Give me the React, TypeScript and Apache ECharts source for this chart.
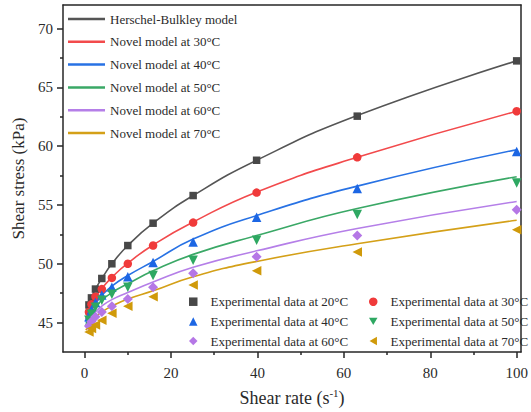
import React, { useEffect, useRef } from "react";
import * as echarts from "echarts";

// Shear rates (s^-1) of the measured points
const shearRates = [1, 1.585, 2.512, 3.981, 6.31, 10, 15.85, 25.12, 39.81, 63.1, 100];

// Measured shear stress (kPa) per temperature
const exp20 = [46.5, 47.1, 47.85, 48.75, 50.0, 51.55, 53.45, 55.8, 58.8, 62.55, 67.25];
const exp30 = [45.9, 46.55, 47.2, 47.85, 48.8, 50.0, 51.55, 53.5, 56.05, 59.05, 62.97];
const exp40 = [45.5, 46.1, 46.7, 47.35, 48.0, 48.9, 50.1, 51.85, 53.95, 56.4, 59.55];
const exp50 = [45.2, 45.7, 46.3, 46.9, 47.4, 48.0, 49.0, 50.3, 52.0, 54.2, 56.86];
const exp60 = [44.7, 45.1, 45.5, 45.9, 46.4, 47.0, 48.0, 49.2, 50.6, 52.4, 54.6];
const exp70 = [44.2, 44.5, 44.8, 45.2, 45.8, 46.4, 47.2, 48.2, 49.4, 51.0, 52.9];

// Model curves sampled at these shear rates
const curveRates = [0.3, 1, 1.585, 2.512, 3.981, 6.31, 10, 15.85, 25.12, 39.81, 63.1, 100];
const hbModel = [46.0, 46.5, 47.1, 47.85, 48.75, 50.0, 51.55, 53.45, 55.8, 58.8, 62.6, 67.25];
const novel30 = [45.3, 45.95, 46.5, 47.15, 47.9, 48.85, 50.05, 51.6, 53.55, 56.1, 59.05, 62.97];
const novel40 = [45.0, 45.6, 46.1, 46.6, 47.3, 48.1, 49.0, 50.2, 52.1, 54.1, 56.6, 59.7];
const novel50 = [44.8, 45.4, 45.85, 46.3, 46.9, 47.55, 48.3, 49.4, 50.8, 52.4, 54.7, 57.4];
const novel60 = [44.6, 45.1, 45.5, 45.9, 46.4, 46.95, 47.55, 48.45, 49.7, 51.1, 53.0, 55.3];
const novel70 = [44.35, 44.8, 45.15, 45.5, 45.9, 46.4, 47.0, 47.7, 48.9, 50.2, 51.7, 53.7];

// Axis ticks
const xMajor = [0, 20, 40, 60, 80, 100];
const xMinor = [10, 30, 50, 70, 90];
const yMajor = [45, 50, 55, 60, 65, 70];
const yMinor = [47.5, 52.5, 57.5, 62.5, 67.5];

const FONT = "'Liberation Serif', 'Times New Roman', serif";
const AXIS_COLOR = "#262626";
const TEXT_COLOR = "#2a2a2a";

// Marker outlines used in the legend
const ICON_DOWN = "path://M0,0L10,0L5,8.66Z";
const ICON_LEFT = "path://M8.66,0L8.66,10L0,5Z";

const curves = [
  { name: "Herschel-Bulkley model", data: hbModel, color: "#555555" },
  { name: "Novel model at 30°C", data: novel30, color: "#f24a4c" },
  { name: "Novel model at 40°C", data: novel40, color: "#2872e4" },
  { name: "Novel model at 50°C", data: novel50, color: "#3aa866" },
  { name: "Novel model at 60°C", data: novel60, color: "#b57fe8" },
  { name: "Novel model at 70°C", data: novel70, color: "#d4a018" },
];

const experiments = [
  { name: "Experimental data at 20°C", data: exp20, color: "#484848", symbol: "rect", size: 7.5, rotate: 0, icon: "rect" },
  { name: "Experimental data at 30°C", data: exp30, color: "#f03a3a", symbol: "circle", size: 8.5, rotate: 0, icon: "circle" },
  { name: "Experimental data at 40°C", data: exp40, color: "#1c66e4", symbol: "triangle", size: 9.5, rotate: 0, icon: "triangle" },
  { name: "Experimental data at 50°C", data: exp50, color: "#2ea862", symbol: "triangle", size: 9.5, rotate: 180, icon: ICON_DOWN },
  { name: "Experimental data at 60°C", data: exp60, color: "#b577e6", symbol: "diamond", size: 10, rotate: 0, icon: "diamond" },
  { name: "Experimental data at 70°C", data: exp70, color: "#d09a0a", symbol: "triangle", size: 9.5, rotate: 90, icon: ICON_LEFT },
];

const XMIN = -5;
const XMAX = 101;
const YMIN = 42.5;
const YMAX = 72;

export default function App() {
  const ref = useRef<HTMLDivElement>(null);

  useEffect(() => {
    if (!ref.current) return;
    const chart = echarts.init(ref.current, null, { renderer: "svg" });

    const tickLabel = { fontFamily: FONT, fontSize: 15, color: TEXT_COLOR };
    const axisLine = { show: true, onZero: false, lineStyle: { color: AXIS_COLOR, width: 1.5 } };

    const lineSeries = curves.map((c) => ({
      name: c.name,
      type: "line",
      xAxisIndex: 0,
      yAxisIndex: 0,
      data: curveRates.map((x, i) => [x, c.data[i]]),
      smooth: 0.5,
      showSymbol: false,
      symbol: "none",
      lineStyle: { color: c.color, width: 1.6 },
      itemStyle: { color: c.color },
      z: 2,
    }));

    const scatterSeries = experiments.map((e) => ({
      name: e.name,
      type: "scatter",
      xAxisIndex: 0,
      yAxisIndex: 0,
      data: shearRates.map((x, i) => [x, e.data[i]]),
      symbol: e.symbol,
      symbolSize: e.size,
      symbolRotate: e.rotate,
      itemStyle: { color: e.color, opacity: 1 },
      z: 3,
    }));

    const scatterLegend = (idx: number[], left: number) => ({
      orient: "vertical",
      left,
      top: 294.7,
      padding: 0,
      itemWidth: 8.5,
      itemHeight: 8.5,
      itemGap: 5.7,
      data: idx.map((i) => ({ name: experiments[i].name, icon: experiments[i].icon })),
      textStyle: {
        fontFamily: FONT,
        fontSize: 13,
        color: TEXT_COLOR,
        lineHeight: 14,
        padding: [0, 0, 0, 8],
      },
      selectedMode: false,
    });

    chart.setOption({
      animation: false,
      backgroundColor: "#ffffff",
      grid: { left: 63, right: 10, top: 5, bottom: 58, containLabel: false },
      legend: [
        {
          orient: "vertical",
          left: 68,
          top: 12,
          padding: 0,
          icon: "rect",
          itemWidth: 37,
          itemHeight: 2.5,
          itemGap: 8.8,
          data: curves.map((c) => c.name),
          textStyle: { fontFamily: FONT, fontSize: 13, color: TEXT_COLOR, lineHeight: 14 },
          selectedMode: false,
        },
        scatterLegend([0, 2, 4], 189),
        scatterLegend([1, 3, 5], 369),
      ],
      xAxis: [
        {
          type: "value",
          position: "bottom",
          min: XMIN,
          max: XMAX,
          axisLine,
          axisTick: { show: true, customValues: xMajor, length: 6, lineStyle: { color: AXIS_COLOR, width: 1.5 } },
          axisLabel: { customValues: xMajor, margin: 13, ...tickLabel },
          splitLine: { show: false },
          name: "{a|Shear rate (s}{sup|-1}{a|)}",
          nameLocation: "middle",
          nameGap: 35,
          nameTextStyle: {
            fontFamily: FONT,
            fontSize: 18,
            color: TEXT_COLOR,
            rich: {
              a: { fontFamily: FONT, fontSize: 18, color: TEXT_COLOR, lineHeight: 22 },
              sup: { fontFamily: FONT, fontSize: 11, color: TEXT_COLOR, lineHeight: 14, verticalAlign: "top" },
            },
          },
        },
        {
          type: "value",
          position: "bottom",
          min: XMIN,
          max: XMAX,
          axisLine: { show: false, onZero: false },
          axisTick: { show: true, customValues: xMinor, length: 3, lineStyle: { color: AXIS_COLOR, width: 1.5 } },
          axisLabel: { show: false },
          splitLine: { show: false },
        },
        {
          type: "value",
          position: "top",
          min: XMIN,
          max: XMAX,
          axisLine,
          axisTick: { show: false },
          axisLabel: { show: false },
          splitLine: { show: false },
        },
      ],
      yAxis: [
        {
          type: "value",
          position: "left",
          min: YMIN,
          max: YMAX,
          axisLine,
          axisTick: { show: true, customValues: yMajor, length: 6, lineStyle: { color: AXIS_COLOR, width: 1.5 } },
          axisLabel: { customValues: yMajor, margin: 10, ...tickLabel },
          splitLine: { show: false },
          name: "Shear stress (kPa)",
          nameLocation: "middle",
          nameGap: 36,
          nameRotate: 90,
          nameTextStyle: { fontFamily: FONT, fontSize: 17, color: TEXT_COLOR },
        },
        {
          type: "value",
          position: "left",
          min: YMIN,
          max: YMAX,
          axisLine: { show: false, onZero: false },
          axisTick: { show: true, customValues: yMinor, length: 3, lineStyle: { color: AXIS_COLOR, width: 1.5 } },
          axisLabel: { show: false },
          splitLine: { show: false },
        },
        {
          type: "value",
          position: "right",
          min: YMIN,
          max: YMAX,
          axisLine,
          axisTick: { show: false },
          axisLabel: { show: false },
          splitLine: { show: false },
        },
      ],
      series: [...lineSeries, ...scatterSeries],
    });

    return () => chart.dispose();
  }, []);

  return (
    <div
      ref={ref}
      style={{ position: "fixed", left: 0, top: 0, width: 531, height: 412 }}
    />
  );
}
